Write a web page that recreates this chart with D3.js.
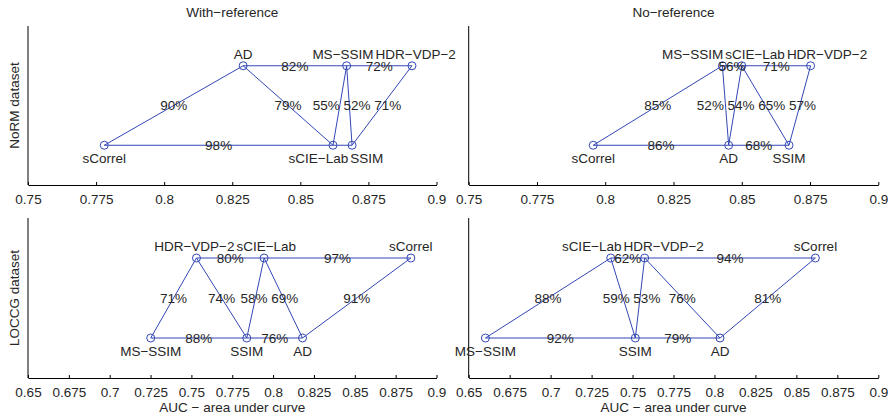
<!DOCTYPE html>
<html>
<head>
<meta charset="utf-8">
<script src="https://cdn.jsdelivr.net/npm/d3@7"></script>
<style>
  body { margin: 0; background: #fff; }
  text { font-family: "Liberation Sans", Arial, sans-serif; font-size: 13.5px; fill: #262626; }
</style>
</head>
<body>
<div id="chart"></div>
<script>
// column titles / row labels
var colTitles = ["With\u2212reference", "No\u2212reference"]
var rowLabels = ["NoRM dataset", "LOCCG dataset"]
var xLabel = "AUC \u2212 area under curve"

// x ticks per dataset row
var ticksNoRM = [0.75, 0.775, 0.8, 0.825, 0.85, 0.875, 0.9]
var ticksLOCCG = [0.65, 0.675, 0.7, 0.725, 0.75, 0.775, 0.8, 0.825, 0.85, 0.875, 0.9]

var methods = ["sCorrel", "AD", "MS\u2212SSIM", "HDR\u2212VDP\u22122", "sCIE\u2212Lab", "SSIM"]

// AUC per method (same order as methods), group 1 = upper row, 0 = lower row
var normWithAUC   = [0.778, 0.829, 0.867, 0.891, 0.862, 0.869]
var normWithGroup = [0, 1, 1, 1, 0, 0]
var normWithEdges = [[0,1,90],[1,2,82],[2,3,72],[1,4,79],[2,4,55],[2,5,52],[3,5,71],[0,4,98],[4,5,null]]

var normNoAUC   = [0.7956, 0.8452, 0.8429, 0.8752, 0.850, 0.8673]
var normNoGroup = [0, 0, 1, 1, 1, 0]
var normNoEdges = [[0,2,85],[2,4,56],[4,3,71],[2,1,52],[4,1,54],[4,5,65],[3,5,57],[0,1,86],[1,5,68]]

var loccgWithAUC   = [0.8843, 0.818, 0.7251, 0.7531, 0.7945, 0.7839]
var loccgWithGroup = [1, 0, 0, 1, 1, 0]
var loccgWithEdges = [[2,3,71],[3,4,80],[4,0,97],[3,5,74],[5,4,58],[4,1,69],[1,0,91],[2,5,88],[5,1,76]]

var loccgNoAUC   = [0.8616, 0.8034, 0.6602, 0.7574, 0.7367, 0.7517]
var loccgNoGroup = [1, 0, 0, 1, 1, 0]
var loccgNoEdges = [[2,4,88],[4,3,62],[3,0,94],[4,5,59],[3,5,53],[3,1,76],[0,1,81],[2,5,92],[5,1,79]]

var panels = [
    {row:0, col:0, auc:normWithAUC,  group:normWithGroup,  edges:normWithEdges,  ticks:ticksNoRM},
    {row:0, col:1, auc:normNoAUC,    group:normNoGroup,    edges:normNoEdges,    ticks:ticksNoRM},
    {row:1, col:0, auc:loccgWithAUC, group:loccgWithGroup, edges:loccgWithEdges, ticks:ticksLOCCG},
    {row:1, col:1, auc:loccgNoAUC,   group:loccgNoGroup,   edges:loccgNoEdges,   ticks:ticksLOCCG}
]

var width = 896, height = 417
var colX = [[28, 436.5], [468.7, 878.3]]
var rowY = [[26, 185], [218, 378]]
var lineColor = "#3347b5"

var svg = d3.select("#chart").append("svg")
    .attr("width", width)
    .attr("height", height)

// push overlapping labels on the same line apart (by their widths), centred on their wanted spots
function spread(items, pad){
    items.sort(function(a, b){ return a.x0 - b.x0 })
    function layout(c){
        var o = [0]
        for(var i = 1; i < c.items.length; i++){
            o.push(o[i-1] + (c.items[i-1].w + c.items[i].w)/2 + pad)
        }
        var shift = d3.mean(c.items, function(d){ return d.x0 }) - d3.mean(o)
        c.items.forEach(function(it, i){ it.x = o[i] + shift })
        c.left = c.items[0].x - c.items[0].w/2
        c.right = c.items[c.items.length-1].x + c.items[c.items.length-1].w/2
    }
    var clusters = []
    items.forEach(function(it){
        var c = {items:[it]}
        layout(c)
        clusters.push(c)
        while(clusters.length > 1){
            var b = clusters[clusters.length-1], a = clusters[clusters.length-2]
            if(b.left - a.right >= pad) break
            var m = {items:a.items.concat(b.items)}
            layout(m)
            clusters.splice(clusters.length-2, 2, m)
        }
    })
}

panels.forEach(function(p){
    var x = d3.scaleLinear().domain([p.ticks[0], p.ticks[p.ticks.length-1]]).range(colX[p.col])
    var y = d3.scaleLinear().domain([-0.5, 1.5]).range([rowY[p.row][1], rowY[p.row][0]])
    var g = svg.append("g")

    // axes
    var xAxis = d3.axisBottom(x).tickValues(p.ticks)
        .tickSizeInner(-3).tickSizeOuter(0).tickPadding(9)
        .tickFormat(function(d){ return String(+d.toFixed(3)) })
    var ax = g.append("g").attr("transform", "translate(0," + y.range()[0] + ")").call(xAxis)
    ax.select(".domain").attr("stroke", "#000")
    ax.selectAll(".tick line").attr("stroke", "#000")
    ax.selectAll(".tick text").attr("font-size", null).attr("font-family", null).attr("fill", null)
    g.append("line")
        .attr("x1", x.range()[0]).attr("x2", x.range()[0])
        .attr("y1", y.range()[0]).attr("y2", y.range()[1])
        .attr("stroke", "#000")

    var nodes = methods.map(function(m, i){
        return {name:m, x:x(p.auc[i]), y:y(p.group[i]), up:p.group[i] == 1}
    })

    // edges
    g.selectAll(".edge").data(p.edges).enter().append("line")
        .attr("class", "edge")
        .attr("x1", function(d){ return nodes[d[0]].x })
        .attr("y1", function(d){ return nodes[d[0]].y })
        .attr("x2", function(d){ return nodes[d[1]].x })
        .attr("y2", function(d){ return nodes[d[1]].y })
        .attr("stroke", lineColor)
        .attr("stroke-width", 1)

    g.selectAll(".node").data(nodes).enter().append("circle")
        .attr("class", "node")
        .attr("cx", function(d){ return d.x })
        .attr("cy", function(d){ return d.y })
        .attr("r", 4)
        .attr("fill", "none")
        .attr("stroke", lineColor)

    // method names above / below their circle
    var names = nodes.map(function(d){
        return {x0:d.x, y:d.up ? d.y - 7 : d.y + 18, text:d.name}
    })
    var nameText = g.selectAll(".name").data(names).enter().append("text")
        .attr("class", "name")
        .attr("y", function(d){ return d.y })
        .attr("text-anchor", "middle")
        .text(function(d){ return d.text })
        .each(function(d){ d.w = this.getComputedTextLength() })
    d3.group(names, function(d){ return d.y }).forEach(function(items){ spread(items, 2) })
    nameText.attr("x", function(d){ return d.x })

    // percentage labels at edge midpoints, spread per line
    var labels = p.edges.filter(function(e){ return e[2] != null }).map(function(e){
        var a = nodes[e[0]], b = nodes[e[1]]
        return {x0:(a.x + b.x)/2, y:(a.y + b.y)/2, text:e[2] + "%"}
    })
    var pctText = g.selectAll(".pct").data(labels).enter().append("text")
        .attr("class", "pct")
        .attr("y", function(d){ return d.y })
        .attr("dy", "0.36em")
        .attr("text-anchor", "middle")
        .text(function(d){ return d.text })
        .each(function(d){ d.w = this.getComputedTextLength() })
    d3.group(labels, function(d){ return Math.round(d.y) }).forEach(function(items){ spread(items, 3.7) })
    pctText.attr("x", function(d){ return d.x })
})

// titles and axis labels
colTitles.forEach(function(t, i){
    svg.append("text").attr("x", d3.mean(colX[i])).attr("y", 17)
        .attr("text-anchor", "middle").text(t)
    svg.append("text").attr("x", d3.mean(colX[i])).attr("y", 411.5)
        .attr("text-anchor", "middle").text(xLabel)
})
rowLabels.forEach(function(t, i){
    var cy = d3.mean(rowY[i])
    svg.append("text")
        .attr("transform", "translate(19," + cy + ") rotate(-90)")
        .attr("text-anchor", "middle").text(t)
})
</script>
</body>
</html>
